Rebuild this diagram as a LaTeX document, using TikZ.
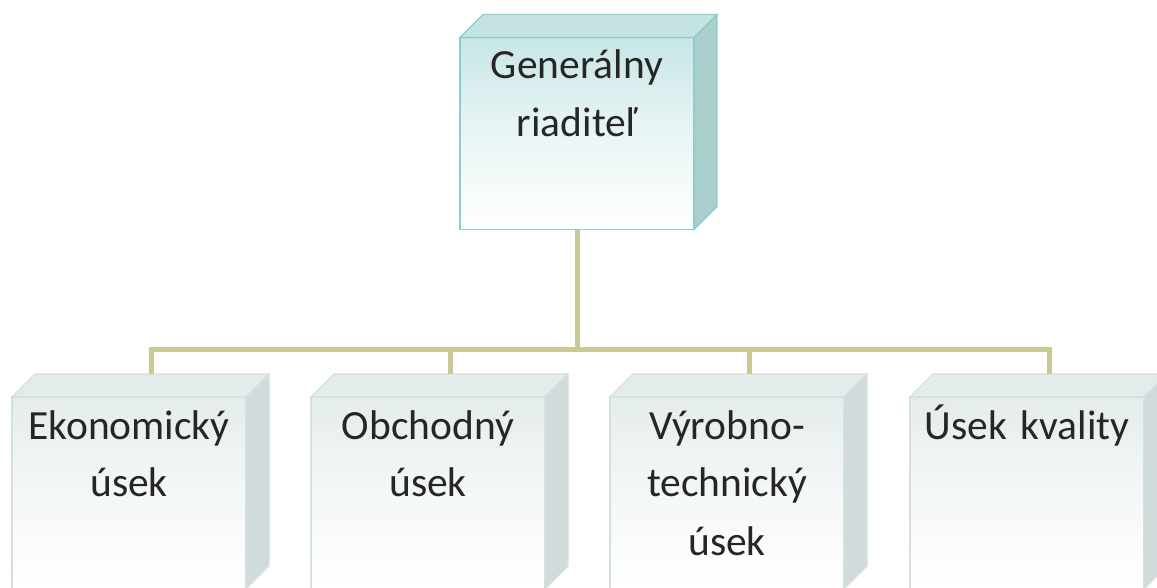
\documentclass[tikz,border=0pt]{standalone}
\usepackage{fontspec}
\setmainfont{Carlito}
\definecolor{lineC}{RGB}{201,201,150}
\definecolor{tFront}{RGB}{200,230,230}
\definecolor{tTop}{RGB}{198,227,227}
\definecolor{tSide}{RGB}{168,206,206}
\definecolor{tEdge}{RGB}{140,204,204}
\definecolor{bFront}{RGB}{229,236,236}
\definecolor{bTop}{RGB}{228,235,235}
\definecolor{bSide}{RGB}{210,219,219}
\definecolor{bEdge}{RGB}{212,224,224}
\tikzset{
  conn/.style={draw=lineC, line width=5pt},
  lbl/.style={font=\fontsize{41.5}{58}\selectfont, text=black!85, align=center, text width=230pt, inner sep=0pt, anchor=base},
}
% #1 left x, #2 top y, #3 front colour, #4 top colour, #5 side colour, #6 edge colour
\newcommand\cubeshape[6]{%
  \shade[top color=#3, bottom color=white, middle color=white!60!#3] (#1,#2) rectangle ++(234,-192);
  \draw[#6, line width=1.2pt] (#1,#2) rectangle ++(234,-192);
  \filldraw[fill=#4, draw=#6, line width=1.2pt] (#1,#2) -- ++(23,23) -- ++(234,0) -- ++(-23,-23) -- cycle;
  \filldraw[fill=#5, draw=#6, line width=1.2pt] (#1+234,#2) -- ++(23,23) -- ++(0,-192) -- ++(-23,-23) -- cycle;
}
\begin{document}
\begin{tikzpicture}[x=1pt,y=1pt]
\useasboundingbox (0,0) rectangle (1157,587);
\clip (0,0) rectangle (1157,587);
% top box
\cubeshape{460}{549.5}{tFront}{tTop}{tSide}{tEdge}
\node[lbl] (gr) at (577,508) {Generálny\\riaditeľ};
\coordinate (grb) at (577,357);
% bottom boxes
\cubeshape{12}{190}{bFront}{bTop}{bSide}{bEdge}
\cubeshape{311}{190}{bFront}{bTop}{bSide}{bEdge}
\cubeshape{610}{190}{bFront}{bTop}{bSide}{bEdge}
\cubeshape{910}{190}{bFront}{bTop}{bSide}{bEdge}
\node[lbl] (ek) at (129,148) {Ekonomický\\úsek};
\node[lbl] (ob) at (428,148) {Obchodný\\úsek};
\node[lbl] (vy) at (727,148) {Výrobno-\\technický\\úsek};
\node[lbl] (uk) at (1027,148) {Úsek kvality};
\coordinate (t1) at (151.5,213);
\coordinate (t2) at (450.5,213);
\coordinate (t3) at (749.5,213);
\coordinate (t4) at (1049.5,213);
\coordinate (hub) at (577,237);
\draw[conn] (grb) -- (hub);
\draw[conn] (t1) |- (hub) -| (t4);
\draw[conn] (t2) -- (t2 |- hub);
\draw[conn] (t3) -- (t3 |- hub);
\end{tikzpicture}
\end{document}
